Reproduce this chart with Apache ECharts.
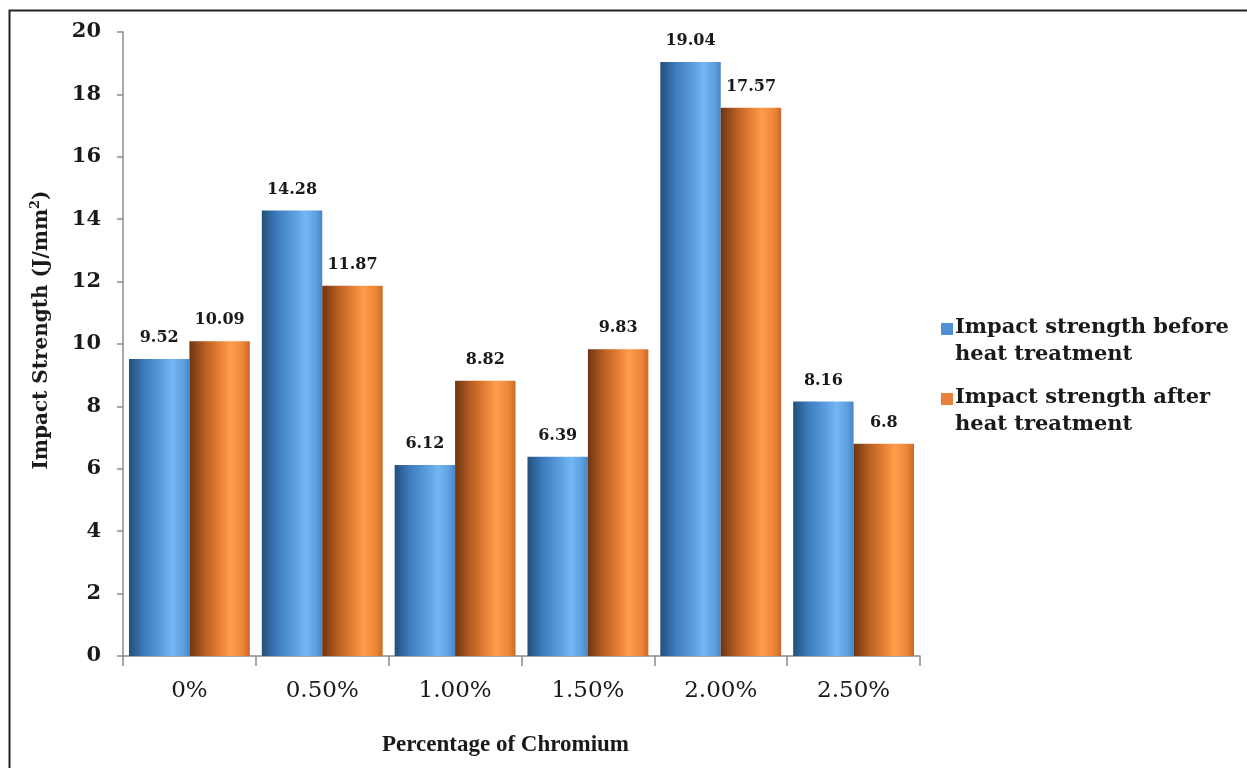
<!DOCTYPE html>
<html>
<head>
<meta charset="utf-8">
<script src="https://cdn.jsdelivr.net/npm/echarts@6/dist/echarts.min.js"></script>
<style>
  html, body { margin: 0; padding: 0; background: #fff; }
  #chart { width: 1247px; height: 768px; }
</style>
</head>
<body>
<div id="chart"></div>
<script>
// Chromium content groups and impact strength (J/mm²)
const categories = ['0%', '0.50%', '1.00%', '1.50%', '2.00%', '2.50%'];
const beforeHeat = [9.52, 14.28, 6.12, 6.39, 19.04, 8.16];
const afterHeat = [10.09, 11.87, 8.82, 9.83, 17.57, 6.8];
const seriesNames = ['Impact strength before\nheat treatment', 'Impact strength after\nheat treatment'];
const yTicks = { min: 0, max: 20, interval: 2 };

const serif = '"Liberation Serif", "Times New Roman", serif';
const wideSerif = '"DejaVu Serif", "Liberation Serif", serif';
const textColor = '#1a1a1a';

// Horizontal shading that gives each bar a rounded, cylinder-like look
function cylinder(stops) {
  return new echarts.graphic.LinearGradient(0, 0, 1, 0,
    stops.map(([offset, color]) => ({ offset, color })));
}
const blueFill = cylinder([
  [0, '#244f7c'], [0.25, '#3d7cbd'], [0.55, '#5c9fe0'],
  [0.72, '#74b7f3'], [0.9, '#5d9fe0'], [1, '#4a86c4']
]);
const orangeFill = cylinder([
  [0, '#6e3510'], [0.25, '#b65d22'], [0.5, '#e67f35'],
  [0.68, '#ff9d4c'], [0.88, '#ee8637'], [1, '#c96a28']
]);

// Legend swatch sitting at the top of a taller box so it lines up with the first text line
const swatch = 'path://M0,0h10v10h-10zM0,29.9h0.01v0.1h-0.01z';

const chart = echarts.init(document.getElementById('chart'), null, { renderer: 'canvas' });

const labelStyle = {
  show: true,
  position: 'top',
  distance: 13,
  fontFamily: wideSerif,
  fontWeight: 'bold',
  fontSize: 16,
  color: textColor
};

chart.setOption({
  animation: false,
  backgroundColor: '#fff',
  graphic: [{
    type: 'rect',
    shape: { x: 9.5, y: 10.5, width: 1400, height: 900 },
    style: { fill: 'none', stroke: '#222', lineWidth: 2 },
    silent: true,
    z: 100
  }],
  grid: { left: 123, right: 327, top: 32, bottom: 112, containLabel: false },
  legend: {
    orient: 'vertical',
    left: 936,
    top: 309,
    itemWidth: 12,
    itemHeight: 36,
    itemGap: 16,
    selectedMode: false,
    textStyle: {
      fontFamily: wideSerif,
      fontWeight: 'bold',
      fontSize: 21,
      lineHeight: 27,
      color: textColor,
      padding: [0, 0, 0, -3]
    },
    data: [
      { name: seriesNames[0], icon: swatch, itemStyle: { color: '#4f8fd6' } },
      { name: seriesNames[1], icon: swatch, itemStyle: { color: '#e8813a' } }
    ]
  },
  xAxis: {
    type: 'category',
    data: categories,
    name: 'Percentage of Chromium',
    nameLocation: 'middle',
    nameGap: 78,
    nameTextStyle: {
      fontFamily: serif,
      fontWeight: 'bold',
      fontSize: 23,
      color: textColor,
      padding: [0, 32, 0, 0]
    },
    axisLine: { lineStyle: { color: '#8c8c8c', width: 1.5 } },
    axisTick: { show: true, length: 10, alignWithLabel: false, lineStyle: { color: '#8c8c8c', width: 1.5 } },
    axisLabel: {
      margin: 24,
      fontFamily: wideSerif,
      fontSize: 23,
      color: textColor
    },
    splitLine: { show: false }
  },
  yAxis: {
    type: 'value',
    min: yTicks.min,
    max: yTicks.max,
    interval: yTicks.interval,
    name: '{a|Impact Strength (J/mm}{s|2}{a|)}',
    nameLocation: 'middle',
    nameGap: 68,
    nameTextStyle: {
      padding: [0, 0, 0, 28],
      rich: {
        a: { fontFamily: wideSerif, fontWeight: 'bold', fontSize: 20, color: textColor, lineHeight: 26 },
        s: { fontFamily: wideSerif, fontWeight: 'bold', fontSize: 13, color: textColor, verticalAlign: 'top', lineHeight: 14 }
      }
    },
    axisLine: { show: true, lineStyle: { color: '#8c8c8c', width: 1.5 } },
    axisTick: { show: true, length: 6, lineStyle: { color: '#8c8c8c', width: 1.5 } },
    axisLabel: {
      margin: 22,
      fontFamily: wideSerif,
      fontWeight: 'bold',
      fontSize: 21,
      color: textColor
    },
    splitLine: { show: false }
  },
  series: [
    {
      name: seriesNames[0],
      type: 'bar',
      data: beforeHeat,
      barGap: '0%',
      barCategoryGap: '9%',
      itemStyle: { color: blueFill },
      label: labelStyle
    },
    {
      name: seriesNames[1],
      type: 'bar',
      data: afterHeat,
      barGap: '0%',
      barCategoryGap: '9%',
      itemStyle: { color: orangeFill },
      label: labelStyle
    }
  ]
});
</script>
</body>
</html>
